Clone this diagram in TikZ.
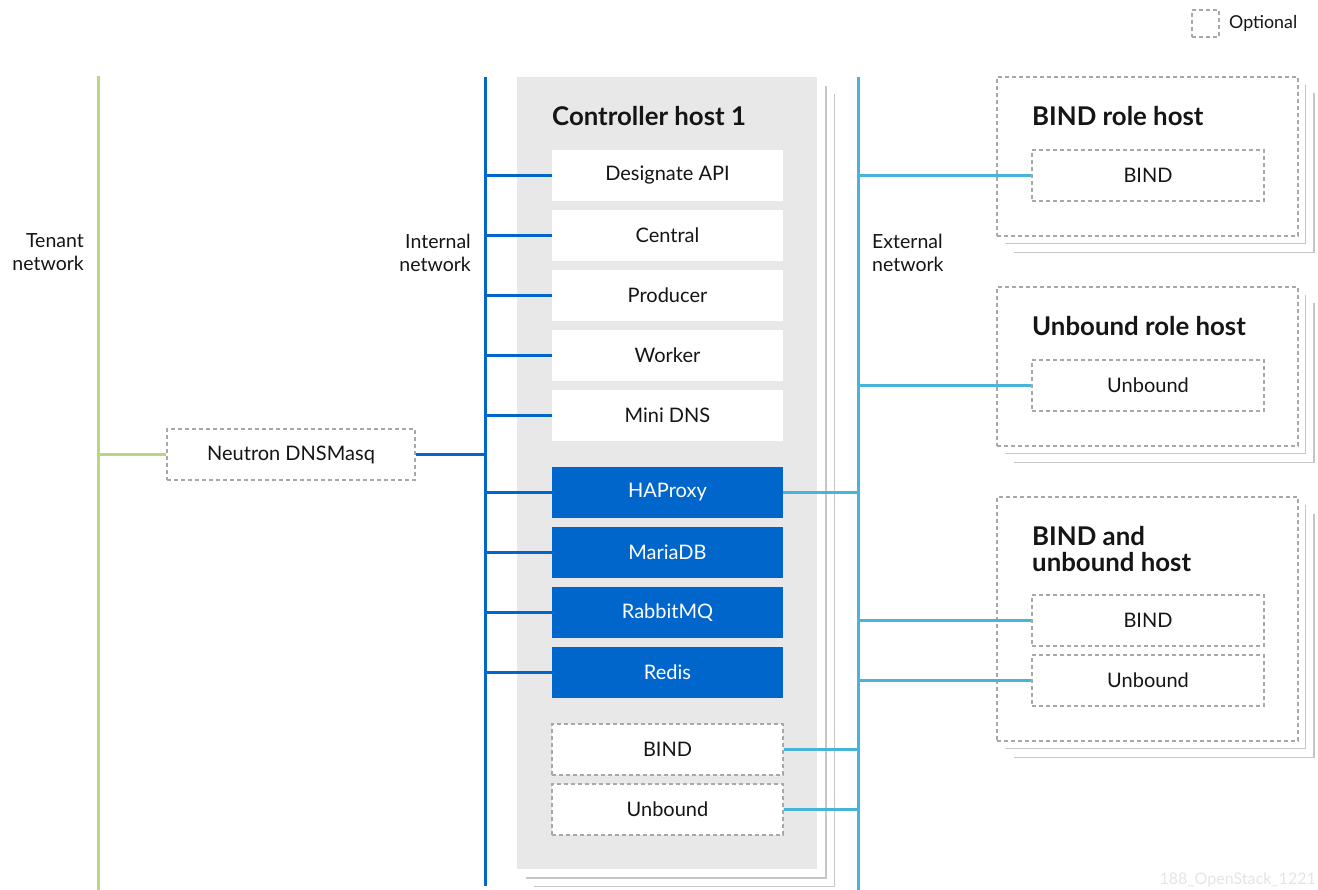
\documentclass[tikz,border=0pt]{standalone}
\usepackage{fontspec}
\setmainfont{Lato}
\definecolor{txt}{HTML}{151515}
\definecolor{tenant}{RGB}{185,215,125}
\definecolor{intblue}{HTML}{0066CC}
\definecolor{extblue}{RGB}{73,180,218}
\definecolor{ctrlgray}{HTML}{E8E8E8}
\definecolor{dashgray}{HTML}{A8A8A8}
\definecolor{shadowgray}{HTML}{C6C6C6}
\tikzset{
  lbl/.style={font=\fontsize{19.5}{23}\selectfont, text=txt, inner sep=0},
  ttl/.style={font=\bfseries\fontsize{25.8}{25.5}\selectfont, text=txt, inner sep=0, anchor=west, align=left},
  svc/.style={rectangle, fill=white, minimum width=231, minimum height=51, inner sep=0, font=\fontsize{20}{22}\selectfont, text=txt},
  bluesvc/.style={svc, fill=intblue, text=white},
  optsvc/.style={svc, draw=dashgray, line width=1.3, dash pattern=on 4 off 3},
  hostbox/.style={rectangle, fill=white, draw=dashgray, line width=1.3, dash pattern=on 4 off 3, inner sep=0},
  ctrlbox/.style={rectangle, fill=ctrlgray, inner sep=0},
  shadowline/.style={draw=shadowgray, line width=1.3},
  tenantnet/.style={draw=tenant, line width=3},
  intnet/.style={draw=intblue, line width=3},
  extnet/.style={draw=extblue, line width=3},
  intbranch/.style={draw=intblue, line width=2.5},
  extbranch/.style={draw=extblue, line width=2.5},
  tenbranch/.style={draw=tenant, line width=2.5},
}
\begin{document}
\begin{tikzpicture}[x=1pt,y=-1pt]
\useasboundingbox[fill=white] (0,0) rectangle (1318,890);

% network lines
\coordinate (tenTop) at (98,76);
\coordinate (tenBot) at (98,890);
\coordinate (intTop) at (485,77);
\coordinate (intBot) at (485,886);
\coordinate (extTop) at (858,77);
\coordinate (extBot) at (858,890);

% controller shadows
\draw[shadowline] (526,878) -- (826,878) -- (826,86);
\draw[shadowline] (534,886.5) -- (834.5,886.5) -- (834.5,94.5);
\node[ctrlbox, minimum width=300, minimum height=792] (ctrl) at (667,473) {};
\node[ttl] (ctrltitle) at (552,116.5) {Controller host 1};

% controller services
\node[svc] (dapi) at (667.5,175.5) {Designate API};
\node[svc] (central) at (667.5,235.5) {Central};
\node[svc] (producer) at (667.5,295.5) {Producer};
\node[svc] (worker) at (667.5,355.5) {Worker};
\node[svc] (minidns) at (667.5,415.5) {Mini DNS};
\node[bluesvc] (haproxy) at (667.5,492.5) {HAProxy};
\node[bluesvc] (mariadb) at (667.5,552.5) {MariaDB};
\node[bluesvc] (rabbit) at (667.5,612.5) {RabbitMQ};
\node[bluesvc] (redis) at (667.5,672.5) {Redis};
\node[optsvc] (cbind) at (667.5,749.5) {BIND};
\node[optsvc] (cunbound) at (667.5,809.5) {Unbound};

% host shadows
\foreach \ya/\yb in {77/236, 287/446, 497/741}{
  \draw[shadowline] (1005,\yb+7.5) -- (1305.5,\yb+7.5) -- (1305.5,\ya+8);
  \draw[shadowline] (1014,\yb+16.5) -- (1314,\yb+16.5) -- (1314,\ya+16.5);
}

% BIND role host
\node[hostbox, minimum width=301, minimum height=159] (bindhost) at (1147.5,156.5) {};
\node[ttl] (bindtitle) at (1032,116.5) {BIND role host};
\node[optsvc, minimum width=232] (hbind) at (1148,175.5) {BIND};

% Unbound role host
\node[hostbox, minimum width=301, minimum height=159] (unbhost) at (1147.5,366.5) {};
\node[ttl] (unbtitle) at (1032,326.5) {Unbound role host};
\node[optsvc, minimum width=232] (hunbound) at (1148,385.5) {Unbound};

% BIND and unbound host
\node[hostbox, minimum width=301, minimum height=244] (bothhost) at (1147.5,619) {};
\node[ttl] (bothtitle) at (1032,549) {BIND and\\unbound host};
\node[optsvc, minimum width=232] (hbind2) at (1148,620.5) {BIND};
\node[optsvc, minimum width=232] (hunbound2) at (1148,680.5) {Unbound};

% Neutron DNSMasq
\node[optsvc, minimum width=248] (neutron) at (291,454.5) {Neutron DNSMasq};

% network trunks
\draw[tenantnet] (tenTop) -- (tenBot);
\draw[intnet] (intTop) -- (intBot);
\draw[extnet] (extTop) -- (extBot);

% internal branches
\foreach \n in {dapi,central,producer,worker,minidns,haproxy,mariadb,rabbit,redis}{
  \draw[intbranch] (\n.west -| intTop) -- (\n.west);
}
\draw[intbranch] (neutron.east) -- (neutron.east -| intTop);
\draw[tenbranch] (neutron.west -| tenTop) -- (neutron.west);

% external branches
\foreach \n in {haproxy,cbind,cunbound}{
  \draw[extbranch] (\n.east) -- (\n.east -| extTop);
}
\foreach \n in {hbind,hunbound,hbind2,hunbound2}{
  \draw[extbranch] (\n.west -| extTop) -- (\n.west);
}

% network labels
\node[lbl, anchor=east, align=right] (tenlbl) at (84,252.5) {Tenant\\network};
\node[lbl, anchor=east, align=right] (intlbl) at (471,252.5) {Internal\\network};
\node[lbl, anchor=west, align=left] (extlbl) at (872,252.5) {External\\network};

% legend
\node[hostbox, minimum width=27, minimum height=27] (legbox) at (1205.5,23.5) {};
\node[lbl, anchor=west, font=\fontsize{17.8}{20}\selectfont] (leglbl) at (1229,23.5) {Optional};

% watermark
\node[inner sep=0, anchor=east, text=black!10, font=\fontsize{16}{18}\selectfont] (wm) at (1316,880) {188\_OpenStack\_1221};
\end{tikzpicture}
\end{document}
